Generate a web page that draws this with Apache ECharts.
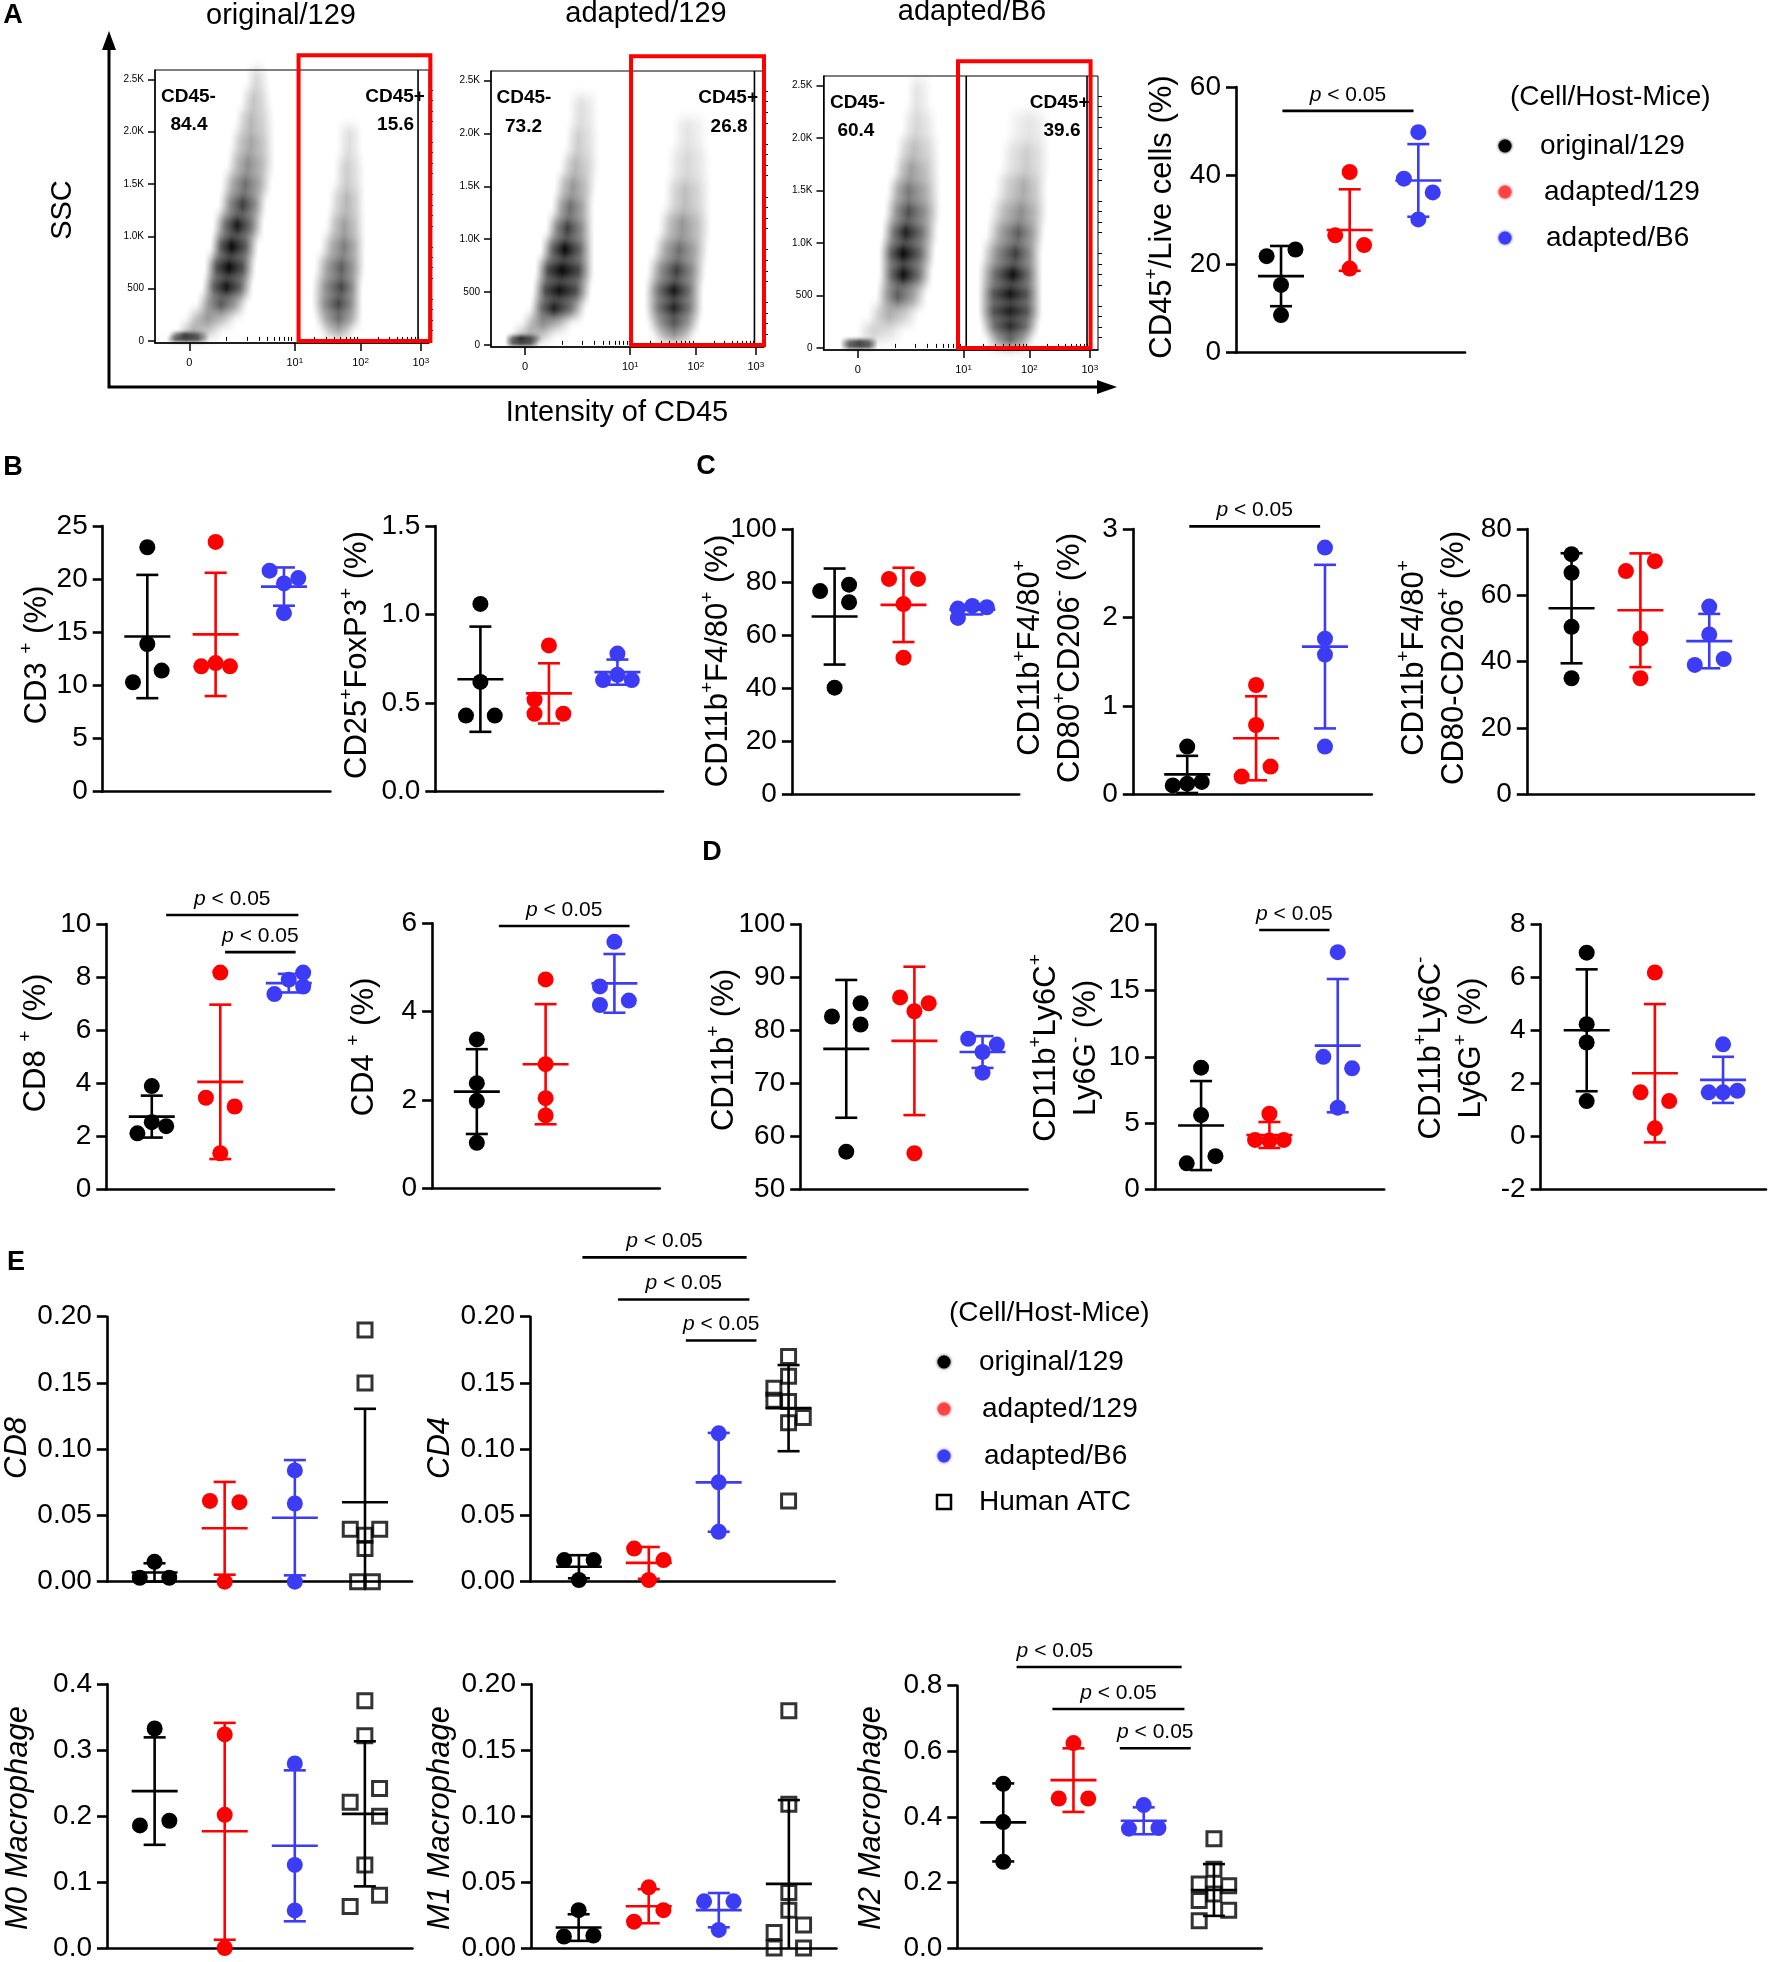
<!DOCTYPE html>
<html>
<head>
<meta charset="utf-8">
<title>Immune cell profiling</title>
<script src="https://cdn.jsdelivr.net/npm/echarts@6.0.0/dist/echarts.min.js"></script>
<style>
  html, body { margin: 0; padding: 0; background: #fff; }
  #chart { width: 1770px; height: 1962px; }
</style>
</head>
<body>
<div id="chart"></div>
<script>
// ---------- data ----------
const legendNames = ['original/129', 'adapted/129', 'adapted/B6', 'Human ATC'];
const groupColors = ['#000000', '#ff0000', '#3c3cf5', '#000000'];

// A: flow cytometry plots
const flowTitles = ['original/129', 'adapted/129', 'adapted/B6'];
const flowNegPct = ['84.4', '73.2', '60.4'];
const flowPosPct = ['15.6', '26.8', '39.6'];
const sscTicks = [0, 500, 1000, 1500, 2000, 2500];
const sscTickLabels = ['0', '500', '1.0K', '1.5K', '2.0K', '2.5K'];
const cd45Ticks = [12.5, 51, 75, 97];            // 0, 10^1, 10^2, 10^3 on the display scale
const cd45TickLabels = ['0', '10{s|1}', '10{s|2}', '10{s|3}'];
const cd45Decades = [26, 51, 75, 97];            // 10^0 .. 10^3

// cloud profiles: [SSC, left, peak, right, density]
const flow1Neg = [
  [2500, 33, 37, 42, 0.12], [2300, 31, 36, 43, 0.18], [2100, 29, 35, 44, 0.22], [1900, 27, 35, 44, 0.28],
  [1700, 26, 34, 44, 0.35], [1500, 24, 33, 43, 0.45], [1300, 23, 32, 41, 0.6], [1100, 21, 30, 40, 0.72],
  [900, 20, 28, 38, 0.85], [700, 18, 27, 37, 0.9], [500, 17, 26, 36, 0.85], [350, 15, 24, 34, 0.55],
  [200, 11, 19, 30, 0.35], [100, 8, 14, 25, 0.3]
];
const flow1Debris = [[60, 5, 11, 20, 0.8], [20, 4, 11, 20, 1.0]];
const flow1Pos = [
  [1900, 66, 71, 76, 0.1], [1600, 65, 70, 77, 0.15], [1300, 63, 70, 77, 0.22], [1100, 62, 69, 77, 0.3],
  [900, 60, 69, 77, 0.4], [700, 58, 68, 77, 0.5], [500, 57, 68, 76, 0.6], [350, 57, 67, 76, 0.62],
  [200, 58, 67, 76, 0.5], [100, 60, 67, 73, 0.3]
];
const flow2Neg = [
  [2200, 28, 33, 40, 0.1], [1900, 27, 32, 40, 0.15], [1700, 25, 31, 40, 0.22], [1500, 23, 30, 39, 0.32],
  [1300, 22, 29, 38, 0.45], [1100, 20, 28, 38, 0.6], [900, 18, 27, 38, 0.8], [700, 16, 26, 38, 0.95],
  [500, 15, 25, 37, 0.95], [350, 14, 23, 35, 0.8], [200, 11, 19, 30, 0.4], [100, 7, 14, 24, 0.3]
];
const flow2Debris = [[60, 5, 11, 19, 0.8], [20, 5, 11, 18, 1.0]];
const flow2Pos = [
  [2000, 66, 72, 80, 0.08], [1700, 64, 72, 81, 0.12], [1400, 63, 71, 81, 0.2], [1100, 61, 70, 81, 0.32],
  [900, 59, 69, 80, 0.45], [700, 57, 68, 79, 0.6], [500, 56, 67, 78, 0.75], [350, 56, 67, 78, 0.75],
  [200, 57, 67, 77, 0.6], [100, 59, 67, 75, 0.4]
];
const flow3Neg = [
  [2400, 30, 34, 40, 0.08], [2100, 28, 34, 42, 0.12], [1900, 26, 33, 43, 0.2], [1700, 25, 32, 43, 0.3],
  [1500, 23, 31, 43, 0.42], [1300, 22, 31, 43, 0.55], [1100, 21, 30, 42, 0.7], [900, 20, 29, 41, 0.8],
  [700, 20, 29, 40, 0.75], [500, 19, 27, 38, 0.5], [300, 16, 24, 35, 0.25], [150, 12, 18, 30, 0.15]
];
const flow3Debris = [[60, 6, 13, 20, 0.9], [20, 6, 13, 20, 1.0]];
const flow3Pos = [
  [2100, 66, 75, 83, 0.08], [1800, 64, 74, 83, 0.15], [1500, 62, 73, 82, 0.25], [1300, 60, 72, 82, 0.35],
  [1100, 59, 71, 81, 0.5], [900, 57, 70, 80, 0.6], [700, 56, 69, 80, 0.75], [500, 56, 68, 80, 0.9],
  [350, 56, 68, 80, 0.95], [200, 57, 68, 79, 0.85], [80, 59, 68, 77, 0.55]
];
const gateBoxes = [[52.4, 100.5], [51.3, 100], [49, 97.3]];
const gateLines = [[96], [96.5], [52, 96]];

// A right: CD45+/Live cells (%)
const cd45Vals = [[21.8, 23.3, 15.3, 8.5], [40.8, 26.5, 24.3, 19.0], [49.8, 39.3, 36.2, 30.1]];
const cd45Jit = [[-1, 1, 0, 0], [0, -1, 1, 0], [0, -1, 1, 0]];
const cd45Mean = [17.3, 27.7, 38.9];
const cd45Sd = [6.8, 9.2, 8.2];
const cd45P = [[0.02, 1.93, 54.6]];

// B
const cd3Vals = [[23.0, 13.9, 11.4, 10.3], [23.5, 12.1, 11.8, 11.8], [20.8, 20.1, 19.6, 16.8]];
const cd3Jit = [[0, 0, 1, -1], [0, 0, -1, 1], [-1, 1, 0, 0]];
const cd3Mean = [14.6, 14.8, 19.3];
const cd3Sd = [5.8, 5.8, 1.8];

const tregVals = [[1.06, 0.62, 0.43, 0.43], [0.826, 0.52, 0.44, 0.44], [0.78, 0.66, 0.63, 0.63]];
const tregJit = [[0, 0, -1, 1], [0, -1, -1, 1], [0, 0, -1, 1]];
const tregMean = [0.635, 0.555, 0.675];
const tregSd = [0.297, 0.17, 0.071];

const cd8Vals = [[3.89, 2.53, 2.38, 2.11], [8.17, 3.45, 3.12, 1.36], [8.17, 7.9, 7.64, 7.36]];
const cd8Jit = [[0, 0, 1, -1], [0, -1, 1, 0], [1, 0, 1, -1]];
const cd8Mean = [2.74, 4.05, 7.77];
const cd8Sd = [0.79, 2.91, 0.35];
const cd8P = [[0.21, 2.14, 10.34], [1.07, 2.10, 8.94]];

const cd4Vals = [[3.37, 2.38, 1.98, 1.03], [4.73, 2.81, 2.04, 1.65], [5.58, 4.57, 4.25, 4.15]];
const cd4Jit = [[0, 0, 0, 0], [0, 0, 0, 0], [0, -1, 1, -1]];
const cd4Mean = [2.19, 2.81, 4.64];
const cd4Sd = [0.96, 1.36, 0.665];
const cd4P = [[0.32, 2.22, 5.94]];

// C
const f480Vals = [[79.0, 76.6, 72.4, 40.2], [81.2, 81.2, 71.7, 51.5], [71.0, 70.5, 70.0, 66.5]];
const f480Jit = [[1, -1, 1, 0], [-1, 1, 0, 0], [0, 1, -1, -1]];
const f480Mean = [67.0, 71.4, 69.6];
const f480Sd = [18.1, 14.0, 1.8];

const m1cVals = [[0.54, 0.14, 0.12, 0.10], [1.236, 0.784, 0.313, 0.2], [2.79, 1.76, 1.58, 0.54]];
const m1cJit = [[0, 1, 0, -1], [0, 0, 1, -1], [0, 0, 0, 0]];
const m1cMean = [0.225, 0.633, 1.67];
const m1cSd = [0.21, 0.475, 0.925];
const m1cP = [[0.03, 1.93, 3.03]];

const m2cVals = [[72.4, 66.8, 50.5, 35.0], [70.3, 67.3, 47.0, 35.0], [56.6, 48.2, 40.8, 39.0]];
const m2cJit = [[0, 0, 0, 0], [1, -1, 0, 0], [0, 0, 1, -1]];
const m2cMean = [56.1, 55.5, 46.2];
const m2cSd = [16.6, 17.15, 8.2];

// D
const cd11bVals = [[85.1, 82.6, 81.1, 57.1], [86.2, 85.1, 83.6, 56.8], [78.4, 77.3, 75.9, 72.0]];
const cd11bJit = [[1, -1, 1, 0], [-1, 1, 0, 0], [-1, 1, 0, 0]];
const cd11bMean = [76.5, 78.0, 75.9];
const cd11bSd = [13.0, 14.0, 3.0];

const ly6cVals = [[9.18, 5.6, 2.5, 1.96], [5.7, 3.73, 3.68, 3.73], [17.9, 10.0, 9.13, 6.16]];
const ly6cJit = [[0, 0, 1, -1], [0, -1, 0, 1], [0, -1, 1, 0]];
const ly6cMean = [4.81, 4.1, 10.84];
const ly6cSd = [3.36, 0.98, 5.03];
const ly6cP = [[0.85, 1.88, 19.57]];

const ly6gVals = [[6.93, 4.23, 3.54, 1.33], [6.18, 1.66, 1.33, 0.3], [3.47, 1.72, 1.66, 1.66]];
const ly6gJit = [[0, 0, 0, 0], [0, -1, 1, 0], [0, 1, 0, -1]];
const ly6gMean = [4.0, 2.38, 2.13];
const ly6gSd = [2.3, 2.61, 0.87];

// E (gene signatures, 4th group = Human ATC)
const cd8GeneVals = [[0.015, 0.003, 0.003], [0.061, 0.060, 0.0], [0.084, 0.059, 0.0],
  [0.19, 0.15, 0.0395, 0.0395, 0.035, 0.025, 0.0, 0.0]];
const cd8GeneJit = [[0, -1, 1], [-1, 1, 0], [0, 0, 0], [0, 0, -1, 1, 0, 0, -0.5, 0.5]];
const cd8GeneMean = [0.007, 0.0403, 0.0483, 0.06];
const cd8GeneSd = [0.0069, 0.035, 0.0435, 0.0705];

const cd4GeneVals = [[0.0163, 0.0163, 0.0013], [0.025, 0.0163, 0.0013], [0.112, 0.075, 0.0377],
  [0.17, 0.155, 0.146, 0.137, 0.136, 0.124, 0.12, 0.061]];
const cd4GeneJit = [[-1, 1, 0], [-1, 1, 0], [0, 0, 0], [0, 0, -1, -1, 0, 1, 0, 0]];
const cd4GeneMean = [0.0113, 0.0142, 0.075, 0.131];
const cd4GeneSd = [0.0087, 0.012, 0.0373, 0.0325];
const cd4GeneP = [[0.05, 2.40, 0.2448], [0.56, 2.44, 0.213], [1.53, 2.54, 0.182]];

const m0Vals = [[0.333, 0.193, 0.186], [0.324, 0.202, 0.0], [0.28, 0.126, 0.057],
  [0.375, 0.322, 0.242, 0.221, 0.2, 0.126, 0.08, 0.063]];
const m0Jit = [[0, 1, -1], [0, 0, 0], [0, 0, 0], [0, 0, 1, -1, 1, 0, 1, -1]];
const m0Mean = [0.238, 0.177, 0.155, 0.2035];
const m0Sd = [0.0815, 0.1645, 0.1145, 0.11];

const m1Vals = [[0.0287, 0.0095, 0.0087], [0.046, 0.0287, 0.02], [0.0354, 0.0354, 0.0137],
  [0.18, 0.109, 0.042, 0.0287, 0.0175, 0.0117, 0.0, 0.0]];
const m1Jit = [[0, 1, -1], [0, 1, -1], [-1, 1, 0], [0, 0, 0, 0, 1, -1, -1, 1]];
const m1Mean = [0.0155, 0.0317, 0.0287, 0.0486];
const m1Sd = [0.0101, 0.0129, 0.013, 0.0636];

const m2Vals = [[0.501, 0.384, 0.263], [0.625, 0.456, 0.456], [0.436, 0.366, 0.364],
  [0.333, 0.24, 0.195, 0.19, 0.165, 0.145, 0.115, 0.083]];
const m2Jit = [[0, 0, 0], [0, -1, 1], [0, 1, -1], [0, 0, -1, 1, 0, -1, 1, -1]];
const m2Mean = [0.383, 0.512, 0.388, 0.177];
const m2Sd = [0.119, 0.097, 0.041, 0.079];
const m2P = [[0.19, 2.54, 0.857, 0.735], [0.70, 2.58, 0.729], [1.66, 2.67, 0.609]];

// ---------- layout ----------
const FONT = "'Liberation Sans', Arial, Helvetica, sans-serif";
const JIT = 0.21;
const TICK_FONT = 28;
const TITLE_FONT = 31;

const grids = [], xAxes = [], yAxes = [], series = [], graphics = [];

function addText(x, y, text, opt) {
  graphics.push({
    type: 'text', x: x, y: y, rotation: opt.rot || 0, silent: true,
    style: Object.assign({
      text: text, fill: '#000', fontFamily: FONT, fontSize: 28,
      align: 'center', verticalAlign: 'middle'
    }, opt.style || {})
  });
}

const supRich = {
  b: { fontSize: TITLE_FONT, fontFamily: FONT, lineHeight: 40 },
  s: { fontSize: 19, fontFamily: FONT, verticalAlign: 'top' },
  i: { fontSize: TITLE_FONT, fontFamily: FONT, fontStyle: 'italic', lineHeight: 40 }
};

// ----- flow cytometry panels -----
function bandData(rows) {
  return rows.map((r, i) => {
    const prev = rows[i - 1], next = rows[i + 1];
    const hi = prev ? (prev[0] + r[0]) / 2 : r[0] + (r[0] - next[0]) / 2;
    const lo = next ? (next[0] + r[0]) / 2 : r[0] - (prev[0] - r[0]) / 2;
    return [r[1], r[3], r[2], r[4], lo, hi];
  });
}

// each band is drawn only through its blurred shadow, so neighbouring bands blend smoothly
const SHIFT = 4000;
function bandRenderer(blur, gain) {
  return function (params, api) {
    const l = api.value(0), r = api.value(1), pk = api.value(2), d = api.value(3);
    const a = api.coord([l, api.value(5)]), b = api.coord([r, api.value(4)]);
    const y0 = Math.round(a[1]), y1 = Math.round(b[1]);
    const f = Math.min(0.98, Math.max(0.02, (pk - l) / (r - l)));
    const c = (k) => 'rgba(0,0,0,' + Math.min(1, d * k * gain).toFixed(3) + ')';
    return {
      type: 'rect',
      shape: { x: a[0] - SHIFT, y: y0, width: b[0] - a[0], height: y1 - y0 },
      style: {
        fill: new echarts.graphic.LinearGradient(0, 0, 1, 0, [
          { offset: 0, color: c(0) }, { offset: f * 0.5, color: c(0.6) }, { offset: f, color: c(1) },
          { offset: f + (1 - f) * 0.5, color: c(0.6) }, { offset: 1, color: c(0) }
        ]),
        shadowBlur: blur, shadowColor: '#000', shadowOffsetX: SHIFT, shadowOffsetY: 0
      }
    };
  };
}

const flowBoxes = [[155, 70, 429, 343], [491, 71, 764, 347], [823.5, 76, 1098, 350]];
const flowPops = [
  [flow1Neg, flow1Debris, flow1Pos],
  [flow2Neg, flow2Debris, flow2Pos],
  [flow3Neg, flow3Debris, flow3Pos]
];
const flowLabelPos = [
  [[2.2, 2330], [12.4, 2070], [98.5, 2330], [87.8, 2070]],
  [[2.0, 2340], [11.9, 2066], [97.8, 2340], [87.2, 2066]],
  [[2.4, 2338], [11.8, 2072], [96.9, 2338], [86.9, 2072]]
];
const flowTitlePos = [[281, 16], [646, 14], [972, 12]];

const minorX = [];
for (let d = 0; d < cd45Decades.length - 1; d++) {
  for (let k = 2; k <= 9; k++) {
    minorX.push(cd45Decades[d] + Math.log10(k) * (cd45Decades[d + 1] - cd45Decades[d]));
  }
}
minorX.push(cd45Decades[0]);
const minorY = [];
for (let v = 100; v <= 2500; v += 100) if (v % 500) minorY.push(v);

flowBoxes.forEach((box, k) => {
  const gi = grids.length;
  grids.push({ left: box[0], top: box[1], width: box[2] - box[0], height: box[3] - box[1],
    show: true, borderColor: '#000', borderWidth: 1, backgroundColor: 'transparent' });
  const xi = xAxes.length, yi = yAxes.length;
  xAxes.push({
    gridIndex: gi, type: 'value', min: 0, max: 100,
    axisLine: { show: true, onZero: false, lineStyle: { color: '#000', width: 1.5 } },
    axisTick: { show: true, customValues: cd45Ticks, length: 8, lineStyle: { color: '#000', width: 1.5 } },
    axisLabel: {
      show: true, customValues: cd45Ticks, margin: 14, color: '#000', fontSize: 11, fontFamily: FONT,
      formatter: (v) => cd45TickLabels[cd45Ticks.indexOf(v)] || '',
      rich: { s: { fontSize: 8, fontFamily: FONT, verticalAlign: 'top' } }
    },
    splitLine: { show: false }
  });
  xAxes.push({
    gridIndex: gi, type: 'value', min: 0, max: 100,
    axisLine: { show: false }, axisLabel: { show: false }, splitLine: { show: false },
    axisTick: { show: true, customValues: minorX, length: 4, lineStyle: { color: '#000', width: 1 } }
  });
  yAxes.push({
    gridIndex: gi, type: 'value', min: -20, max: 2590,
    axisLine: { show: true, onZero: false, lineStyle: { color: '#000', width: 1.5 } },
    axisTick: { show: true, customValues: sscTicks, length: 7, lineStyle: { color: '#000', width: 1.5 } },
    axisLabel: {
      show: true, customValues: sscTicks, margin: 11, color: '#000', fontSize: 10, fontFamily: FONT,
      formatter: (v) => sscTickLabels[sscTicks.indexOf(v)] || ''
    },
    splitLine: { show: false }
  });
  yAxes.push({
    gridIndex: gi, type: 'value', min: -20, max: 2590,
    axisLine: { show: false, onZero: false }, axisLabel: { show: false }, splitLine: { show: false },
    axisTick: { show: true, customValues: minorY, length: 4, lineStyle: { color: '#000', width: 1 } }
  });

  flowPops[k].forEach((rows, j) => {
    const debris = j === 1;
    series.push({ type: 'custom', xAxisIndex: xi, yAxisIndex: yi,
      renderItem: debris ? bandRenderer(4, 1.4) : bandRenderer(12, 1.3),
      data: bandData(rows), silent: true, z: 2, clip: false });
  });

  // gate lines
  series.push({
    type: 'custom', xAxisIndex: xi, yAxisIndex: yi, silent: true, z: 3,
    data: gateLines[k].map((g) => [g]),
    renderItem: (params, api) => {
      const a = api.coord([api.value(0), 2590]), b = api.coord([api.value(0), -20]);
      return { type: 'line', shape: { x1: a[0], y1: a[1], x2: b[0], y2: b[1] },
        style: { stroke: '#000', lineWidth: 1.6 } };
    }
  });
  // red gate box
  series.push({
    type: 'custom', xAxisIndex: xi, yAxisIndex: yi, silent: true, z: 4, clip: false,
    data: [[gateBoxes[k][0], gateBoxes[k][1]]],
    renderItem: (params, api) => {
      const a = api.coord([api.value(0), 2730]), b = api.coord([api.value(1), 0]);
      return { type: 'rect', shape: { x: a[0], y: a[1], width: b[0] - a[0], height: b[1] - a[1] },
        style: { fill: 'none', stroke: '#ff0000', lineWidth: 4 } };
    }
  });
  // gate labels
  const labels = ['CD45-', flowNegPct[k], 'CD45+', flowPosPct[k]];
  const aligns = ['left', 'center', 'right', 'center'];
  series.push({
    type: 'custom', xAxisIndex: xi, yAxisIndex: yi, silent: true, z: 5, clip: false,
    data: flowLabelPos[k],
    renderItem: (params, api) => {
      const p = api.coord([api.value(0), api.value(1)]);
      return { type: 'text', x: p[0], y: p[1],
        style: { text: labels[params.dataIndex], fill: '#000', fontFamily: FONT, fontWeight: 'bold',
          fontSize: 19, align: aligns[params.dataIndex], verticalAlign: 'middle' } };
    }
  });
  addText(flowTitlePos[k][0], flowTitlePos[k][1], flowTitles[k], { style: { fontSize: 29 } });
});

// big arrows of panel A
graphics.push({ type: 'polyline', silent: true,
  shape: { points: [[109, 46], [109, 387], [1100, 387]] },
  style: { stroke: '#000', lineWidth: 3, fill: 'none' } });
graphics.push({ type: 'polygon', silent: true, shape: { points: [[102, 50], [116, 50], [109, 31]] }, style: { fill: '#000' } });
graphics.push({ type: 'polygon', silent: true, shape: { points: [[1097, 380], [1097, 394], [1117, 387]] }, style: { fill: '#000' } });
addText(63, 210, 'SSC', { rot: Math.PI / 2, style: { fontSize: 29 } });
addText(617, 413, 'Intensity of CD45', { style: { fontSize: 29 } });

// ----- dot plot panels -----
function errorBarItem(yMin) {
  return function (params, api) {
    const g = api.value(0), m = api.value(1), s = api.value(2);
    const color = groupColors[params.dataIndex];
    const clipped = m - s < yMin;
    const hi = api.coord([g, m + s]);
    const lo = api.coord([g, Math.max(m - s, yMin)]);
    const mid = api.coord([g, m]);
    const st = { stroke: color, lineWidth: 2.6 };
    const ch = [
      { type: 'line', shape: { x1: hi[0], y1: hi[1], x2: lo[0], y2: lo[1] }, style: st },
      { type: 'line', shape: { x1: mid[0] - 23, y1: mid[1], x2: mid[0] + 23, y2: mid[1] }, style: st },
      { type: 'line', shape: { x1: hi[0] - 11, y1: hi[1], x2: hi[0] + 11, y2: hi[1] }, style: st }
    ];
    if (!clipped) ch.push({ type: 'line', shape: { x1: lo[0] - 11, y1: lo[1], x2: lo[0] + 11, y2: lo[1] }, style: st });
    return { type: 'group', children: ch };
  };
}

function pBarItem(params, api) {
  const y = api.value(2);
  const a = api.coord([api.value(0), y]), b = api.coord([api.value(1), y]);
  const t = api.coord([api.value(3), y]);
  return { type: 'group', children: [
    { type: 'line', shape: { x1: a[0], y1: a[1], x2: b[0], y2: b[1] }, style: { stroke: '#000', lineWidth: 2.6 } },
    { type: 'text', x: t[0], y: t[1] - 16,
      style: { text: '{i|p} < 0.05', fill: '#000', fontFamily: FONT, fontSize: 21, align: 'center', verticalAlign: 'middle',
        rich: { i: { fontSize: 21, fontFamily: FONT, fontStyle: 'italic' } } } }
  ] };
}

const dotPanels = [
  { vals: cd45Vals, jit: cd45Jit, mean: cd45Mean, sd: cd45Sd, p: cd45P, box: [1236, 87, 1465, 352.7], x: [-0.656, 2.68], y: [0, 60, 20], dec: 0,
    title: '{b|CD45}{s|+}{b|/Live cells (%)}', tpos: [1162, 217] },
  { vals: cd3Vals, jit: cd3Jit, mean: cd3Mean, sd: cd3Sd, box: [102.7, 526, 330.4, 791.7], x: [-0.653, 2.68], y: [0, 25, 5], dec: 0,
    title: '{b|CD3 }{s|+}{b| (%)}', tpos: [37, 655] },
  { vals: tregVals, jit: tregJit, mean: tregMean, sd: tregSd, box: [435.3, 526, 663, 791.7], x: [-0.658, 2.665], y: [0, 1.5, 0.5], dec: 1,
    title: '{b|CD25}{s|+}{b|FoxP3}{s|+}{b| (%)}', tpos: [357, 655] },
  { vals: f480Vals, jit: f480Jit, mean: f480Mean, sd: f480Sd, box: [791.9, 529, 1019.2, 794.3], x: [-0.62, 2.68], y: [0, 100, 20], dec: 0,
    title: '{b|CD11b}{s|+}{b|F4/80}{s|+}{b| (%)}', tpos: [718, 661] },
  { vals: m1cVals, jit: m1cJit, mean: m1cMean, sd: m1cSd, p: m1cP, box: [1132.8, 529, 1371.8, 794.3], x: [-0.79, 2.68], y: [0, 3, 1], dec: 0,
    title: '{b|CD11b}{s|+}{b|F4/80}{s|+}\n{b|CD80}{s|+}{b|CD206}{s|-}{b| (%)}', tpos: [1050, 658] },
  { vals: m2cVals, jit: m2cJit, mean: m2cMean, sd: m2cSd, box: [1526.8, 529, 1754, 794.3], x: [-0.65, 2.65], y: [0, 80, 20], dec: 0,
    title: '{b|CD11b}{s|+}{b|F4/80}{s|+}\n{b|CD80-CD206}{s|+}{b| (%)}', tpos: [1434, 658] },
  { vals: cd8Vals, jit: cd8Jit, mean: cd8Mean, sd: cd8Sd, p: cd8P, box: [106.3, 924, 334, 1189.3], x: [-0.664, 2.66], y: [0, 10, 2], dec: 0,
    title: '{b|CD8 }{s|+}{b| (%)}', tpos: [36, 1043] },
  { vals: cd4Vals, jit: cd4Jit, mean: cd4Mean, sd: cd4Sd, p: cd4P, box: [432.1, 923.3, 659.8, 1188.3], x: [-0.65, 2.66], y: [0, 6, 2], dec: 0,
    title: '{b|CD4 }{s|+}{b| (%)}', tpos: [364, 1047] },
  { vals: cd11bVals, jit: cd11bJit, mean: cd11bMean, sd: cd11bSd, box: [800.2, 924.3, 1027.5, 1189.3], x: [-0.676, 2.66], y: [50, 100, 10], dec: 0,
    title: '{b|CD11b}{s|+}{b| (%)}', tpos: [724, 1050] },
  { vals: ly6cVals, jit: ly6cJit, mean: ly6cMean, sd: ly6cSd, p: ly6cP, box: [1154.9, 924.3, 1384.2, 1189.3], x: [-0.676, 2.68], y: [0, 20, 5], dec: 0,
    title: '{b|CD11b}{s|+}{b|Ly6C}{s|+}\n{b|Ly6G}{s|-}{b| (%)}', tpos: [1066, 1048] },
  { vals: ly6gVals, jit: ly6gJit, mean: ly6gMean, sd: ly6gSd, box: [1540.6, 924.3, 1766, 1189.3], x: [-0.676, 2.63], y: [-2, 8, 2], dec: 0,
    title: '{b|CD11b}{s|+}{b|Ly6C}{s|-}\n{b|Ly6G}{s|+}{b| (%)}', tpos: [1451, 1048] },
  { vals: cd8GeneVals, jit: cd8GeneJit, mean: cd8GeneMean, sd: cd8GeneSd, box: [106.8, 1316.7, 412, 1581.7], x: [-0.68, 3.67], y: [0, 0.2, 0.05], dec: 2,
    title: '{i|CD8}', tpos: [17, 1448] },
  { vals: cd4GeneVals, jit: cd4GeneJit, mean: cd4GeneMean, sd: cd4GeneSd, p: cd4GeneP, box: [530, 1316.7, 834.7, 1581.7], x: [-0.70, 3.66], y: [0, 0.2, 0.05], dec: 2,
    title: '{i|CD4}', tpos: [440, 1448] },
  { vals: m0Vals, jit: m0Jit, mean: m0Mean, sd: m0Sd, box: [107, 1684.3, 412.5, 1951.7], x: [-0.68, 3.68], y: [0, 0.4, 0.1], dec: 1,
    title: '{i|M0 Macrophage}', tpos: [18, 1818] },
  { vals: m1Vals, jit: m1Jit, mean: m1Mean, sd: m1Sd, box: [531, 1684.3, 836.5, 1951.7], x: [-0.68, 3.68], y: [0, 0.2, 0.05], dec: 2,
    title: '{i|M1 Macrophage}', tpos: [440, 1818] },
  { vals: m2Vals, jit: m2Jit, mean: m2Mean, sd: m2Sd, p: m2P, box: [957.3, 1685.7, 1261.7, 1951.7], x: [-0.654, 3.68], y: [0, 0.8, 0.2], dec: 1,
    title: '{i|M2 Macrophage}', tpos: [871, 1818] }
];

dotPanels.forEach((pn) => {
  const gi = grids.length;
  grids.push({ left: pn.box[0], top: pn.box[1], width: pn.box[2] - pn.box[0], height: pn.box[3] - pn.box[1] });
  const xi = xAxes.length, yi = yAxes.length;
  xAxes.push({
    gridIndex: gi, type: 'value', min: pn.x[0], max: pn.x[1],
    axisLine: { show: true, onZero: false, lineStyle: { color: '#000', width: 2.6 } },
    axisTick: { show: false }, axisLabel: { show: false }, splitLine: { show: false }
  });
  yAxes.push({
    gridIndex: gi, type: 'value', min: pn.y[0], max: pn.y[1], interval: pn.y[2],
    axisLine: { show: true, onZero: false, lineStyle: { color: '#000', width: 2.6 } },
    axisTick: { show: true, length: 10, lineStyle: { color: '#000', width: 2.6 } },
    axisLabel: { show: true, margin: 15, color: '#000', fontSize: TICK_FONT, fontFamily: FONT,
      formatter: (v) => v.toFixed(pn.dec) },
    splitLine: { show: false }
  });
  pn.vals.forEach((vals, g) => {
    const square = g === 3;
    series.push({
      type: 'scatter', xAxisIndex: xi, yAxisIndex: yi, silent: true, z: 2, clip: false,
      symbol: square ? 'rect' : 'circle', symbolSize: square ? 14 : 16,
      itemStyle: square ? { color: 'rgba(0,0,0,0)', borderColor: '#000', borderWidth: 3 }
                        : { color: groupColors[g], opacity: 1 },
      data: vals.map((v, i) => [g + pn.jit[g][i] * JIT, v])
    });
  });
  series.push({
    type: 'custom', xAxisIndex: xi, yAxisIndex: yi, silent: true, z: 3, clip: false,
    renderItem: errorBarItem(pn.y[0]),
    data: pn.mean.map((m, g) => [g, m, pn.sd[g]])
  });
  if (pn.p) {
    series.push({
      type: 'custom', xAxisIndex: xi, yAxisIndex: yi, silent: true, z: 4, clip: false,
      renderItem: pBarItem,
      data: pn.p.map((b) => [b[0], b[1], b[2], b.length > 3 ? b[3] : (b[0] + b[1]) / 2])
    });
  }
  addText(pn.tpos[0], pn.tpos[1], pn.title, { rot: Math.PI / 2, style: { rich: supRich, fontSize: TITLE_FONT } });
});

// ----- legends -----
function legend(x, titleY, rows, withSquare) {
  addText(x + 5, titleY, '(Cell/Host-Mice)', { style: { fontSize: 28, align: 'left' } });
  rows.forEach((r, i) => {
    if (withSquare && i === 3) {
      graphics.push({ type: 'rect', silent: true, shape: { x: x - 7, y: r[0] - 7, width: 14, height: 14 },
        style: { fill: 'none', stroke: '#000', lineWidth: 2.5 } });
    } else {
      const col = i === 1 ? '#ff4444' : groupColors[i];
      graphics.push({ type: 'circle', silent: true, shape: { cx: x, cy: r[0], r: 6.5 },
        style: { fill: col, shadowBlur: 3, shadowColor: col } });
    }
    addText(x + r[1], r[0], legendNames[i], { style: { fontSize: 28, align: 'left' } });
  });
}
legend(1505, 97, [[146, 35], [192, 39], [238, 41]], false);
legend(944, 1313, [[1362, 35], [1409, 38], [1456, 40], [1502, 35]], true);

// panel letters
[['A', 13, 16], ['B', 13, 468], ['C', 706, 467], ['D', 712, 853], ['E', 16, 1263]].forEach((l) => {
  addText(l[1], l[2], l[0], { style: { fontSize: 27, fontWeight: 'bold' } });
});

const chart = echarts.init(document.getElementById('chart'), null, { renderer: 'canvas' });
chart.setOption({
  backgroundColor: '#ffffff',
  animation: false,
  grid: grids,
  xAxis: xAxes,
  yAxis: yAxes,
  series: series,
  graphic: { elements: graphics }
});
</script>
</body>
</html>
